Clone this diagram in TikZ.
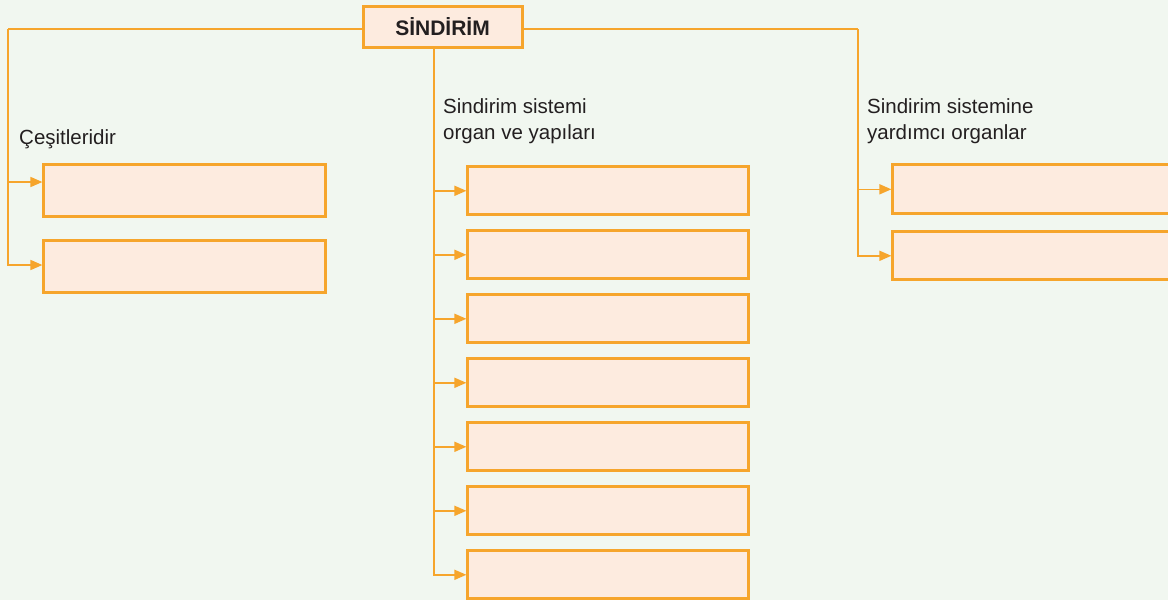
\documentclass[tikz,border=0pt]{standalone}
\usepackage{fontspec}
\setmainfont{Liberation Sans}
\usetikzlibrary{arrows.meta}
\definecolor{bg}{HTML}{F1F7F0}
\definecolor{org}{HTML}{F6A52C}
\definecolor{boxfill}{HTML}{FDEBDF}
\definecolor{txt}{HTML}{231F20}
\begin{document}
\begin{tikzpicture}[x=1pt,y=-1pt,
  ansbox/.style={draw=org, fill=boxfill, line width=2.8pt, anchor=north west,
    inner sep=0pt, minimum width=281pt, minimum height=48pt},
  titlebox/.style={draw=org, fill=boxfill, line width=3pt, inner sep=0pt,
    minimum width=159pt, minimum height=41pt, text=txt,
    font=\fontsize{21}{24}\selectfont\bfseries},
  lbl/.style={anchor=base west, inner sep=0pt, text=txt, align=left,
    font=\fontsize{20.5}{26}\selectfont},
  conn/.style={draw=org, line width=1.6pt},
  arr/.style={conn, -{Triangle[length=12pt,width=10pt]}}
]
\fill[bg] (0,0) rectangle (1168,600);
\useasboundingbox (0,0) rectangle (1168,600);
\clip (0,0) rectangle (1168,600);

% title
\node[titlebox] (title) at (442.5,27) {SİNDİRİM};

% labels
\node[lbl] (lblL) at (19,144) {Çeşitleridir};
\node[lbl] (lblM) at (443,139) {Sindirim sistemi\\organ ve yapıları};
\node[lbl] (lblR) at (867,139) {Sindirim sistemine\\yardımcı organlar};

% left boxes
\node[ansbox, minimum width=282pt, minimum height=52pt] (l1) at (42.4,163.4) {};
\node[ansbox, minimum width=282pt, minimum height=52pt] (l2) at (42.4,239.4) {};

% middle boxes
\foreach \i in {1,...,7}{
  \node[ansbox] (m\i) at (466.4,{165.4+64*(\i-1)}) {};
}

% right boxes
\node[ansbox, minimum width=300pt, minimum height=49pt] (r1) at (891.4,163.4) {};
\node[ansbox, minimum width=300pt, minimum height=48pt] (r2) at (891.4,230.4) {};

% coordinates
\coordinate (lt) at (8,29);
\coordinate (rt) at (858,29);
\coordinate (mt) at (434,49);
\coordinate (la) at (8,182);

% left branch
\draw[conn] (lt -| title.west) -- (lt);
\draw[arr] (lt) |- (l2.west |- 0,265);
\draw[arr] (la) -- (la -| l1.west);

% middle branch
\draw[arr] (mt) |- (m7.west);
\foreach \i in {1,...,6}{
  \draw[arr] (mt |- m\i.west) -- (m\i.west);
}

% right branch
\draw[conn] (rt -| title.east) -- (rt);
\draw[arr] (rt) |- (r2.west);
\draw[arr] (rt |- r1.west) -- (r1.west);

% redraw title on top
\node[titlebox] at (title.center) {SİNDİRİM};
\end{tikzpicture}
\end{document}
